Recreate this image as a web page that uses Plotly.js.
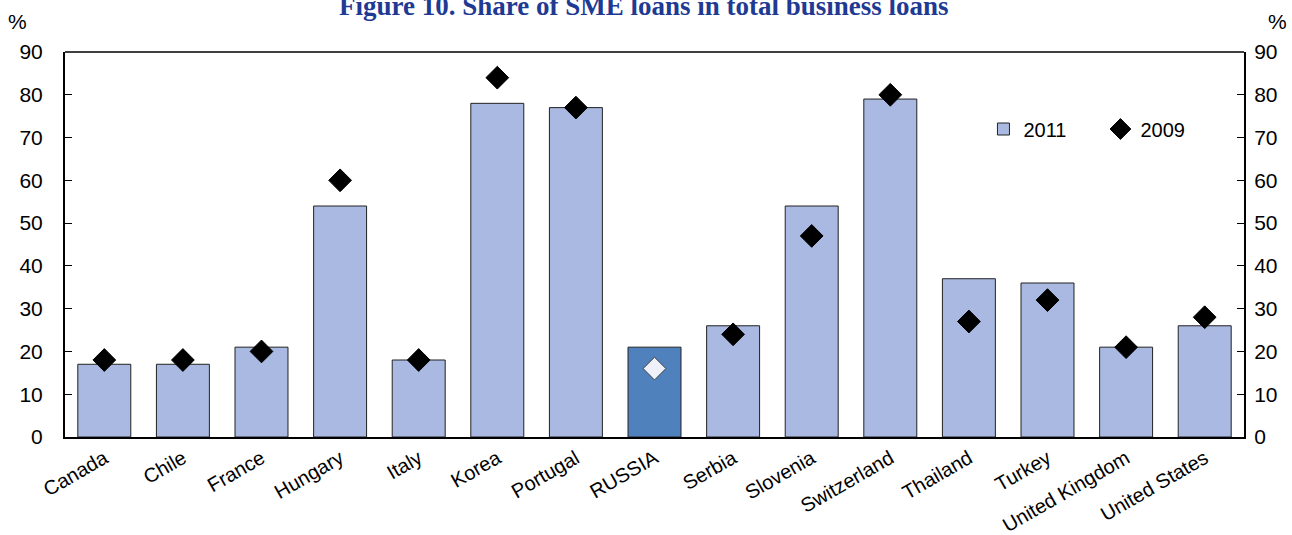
<!DOCTYPE html>
<html><head><meta charset="utf-8">
<script src="https://cdn.plot.ly/plotly-3.0.1.min.js"></script>
<style>body{margin:0;background:#fff}#c{width:1292px;height:535px}</style>
</head><body><div id="c"></div>
<script>
const categories = ["Canada","Chile","France","Hungary","Italy","Korea","Portugal","RUSSIA","Serbia","Slovenia","Switzerland","Thailand","Turkey","United Kingdom","United States"];
const values2011 = [17,17,21,54,18,78,77,21,26,54,79,37,36,21,26];
const values2009 = [18,18,20,60,18,84,77,16,24,47,80,27,32,21,28];
const yTicks = [0,10,20,30,40,50,60,70,80,90];

const barColors = categories.map(c => c === "RUSSIA" ? "#4F81BD" : "#A9B9E1");
const dotColors = categories.map(c => c === "RUSSIA" ? "#EEF1FA" : "#000000");
const dotLines = categories.map(c => c === "RUSSIA" ? "#404040" : "#000000");

const tickFont = {family:"Liberation Sans, Arial, sans-serif", size:21, color:"#000"};

const data = [
  {type:"bar", x:categories, y:values2011, name:"2011",
   marker:{color:barColors, line:{color:"#222", width:1}}},
  {type:"scatter", mode:"markers", x:categories, y:values2009, name:"2009",
   marker:{symbol:"diamond", size:17.5, color:dotColors, line:{color:dotLines, width:1}}},
  {type:"scatter", mode:"markers", x:categories, y:values2009, yaxis:"y2", showlegend:false,
   hoverinfo:"skip", marker:{opacity:0}}
];

const layout = {
  width:1292, height:535,
  margin:{l:65, r:48, t:52, b:98},
  paper_bgcolor:"#fff", plot_bgcolor:"#fff",
  bargap:0.326,
  showlegend:true,
  legend:{orientation:"h", x:0.779, y:0.8, xanchor:"left", yanchor:"middle",
    font:{family:"Liberation Sans, Arial, sans-serif", size:20, color:"#000"},
    bgcolor:"rgba(0,0,0,0)", entrywidth:72, entrywidthmode:"pixels", tracegroupgap:0},
  xaxis:{type:"category", range:[-0.5,14.5], tickangle:-30, showline:true, linecolor:"#000", linewidth:2,
    mirror:false, ticks:"", tickfont:{family:"Liberation Sans, Arial, sans-serif", size:20, color:"#000"},
    showgrid:false, zeroline:false, automargin:false},
  yaxis:{range:[0,90], tickvals:yTicks, ticks:"inside", ticklen:7, tickcolor:"#000", tickwidth:1,
    showline:true, linecolor:"#000", linewidth:2, showgrid:false, zeroline:false,
    tickfont:tickFont, ticklabelstandoff:16, automargin:false},
  yaxis2:{range:[0,90], overlaying:"y", side:"right", tickvals:yTicks, ticks:"inside", ticklen:7,
    tickcolor:"#000", tickwidth:1, showline:true, linecolor:"#000", linewidth:2, showgrid:false,
    zeroline:false, tickfont:tickFont, ticklabelstandoff:4, automargin:false},
  shapes:[{type:"line", xref:"paper", yref:"paper", x0:0, x1:1, y0:1, y1:1, line:{color:"#000", width:1.5}}],
  annotations:[
    {text:"<b>Figure 10. Share of SME loans in total business loans</b>", xref:"paper", yref:"paper",
     x:0.491, y:1.119, xanchor:"center", yanchor:"middle", showarrow:false,
     font:{family:"Liberation Serif, Times New Roman, serif", size:27, color:"#1F3A93"}},
    {text:"%", xref:"paper", yref:"paper", x:-0.05, y:1.045, xanchor:"left", yanchor:"bottom", showarrow:false, font:tickFont},
    {text:"%", xref:"paper", yref:"paper", x:1.019, y:1.045, xanchor:"left", yanchor:"bottom", showarrow:false, font:tickFont}
  ]
};
Plotly.newPlot("c", data, layout, {displayModeBar:false, staticPlot:true});
</script></body></html>
